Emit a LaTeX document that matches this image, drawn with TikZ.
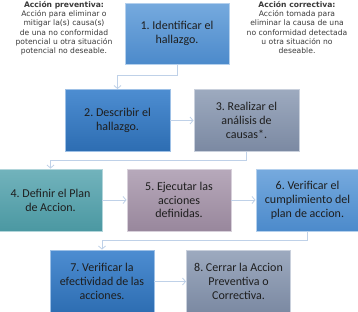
\documentclass[tikz,border=0pt]{standalone}
\usepackage{fontspec}
\setmainfont{Carlito}
\newfontfamily\notefont{DejaVu Sans}
\usetikzlibrary{arrows.meta}

\definecolor{blueTop}{HTML}{76AADE}
\definecolor{blueBot}{HTML}{4C8ACB}
\definecolor{dblueTop}{HTML}{4D8DD1}
\definecolor{dblueBot}{HTML}{2D6DB2}
\definecolor{greyTop}{HTML}{9DAABF}
\definecolor{greyBot}{HTML}{7B89A2}
\definecolor{tealTop}{HTML}{72B3BC}
\definecolor{tealBot}{HTML}{4B98A2}
\definecolor{mauveTop}{HTML}{B7A9BB}
\definecolor{mauveBot}{HTML}{98879C}
\definecolor{linkcol}{HTML}{BFD1E8}
\definecolor{notecol}{HTML}{3A3A3A}
\definecolor{boxtext}{HTML}{1E1E1E}

\tikzset{
  stepbox/.style={rectangle, minimum width=104pt, minimum height=62pt,
    inner sep=2pt, align=center, text=boxtext,
    font=\fontsize{12}{13.8}\selectfont, line width=0.9pt},
  bluebox/.style={stepbox, top color=blueTop, bottom color=blueBot, draw=blueTop!55!white},
  dbluebox/.style={stepbox, top color=dblueTop, bottom color=dblueBot, draw=dblueTop!55!white},
  greybox/.style={stepbox, top color=greyTop, bottom color=greyBot, draw=greyTop!55!white},
  tealbox/.style={stepbox, top color=tealTop, bottom color=tealBot, draw=tealTop!55!white},
  mauvebox/.style={stepbox, top color=mauveTop, bottom color=mauveBot, draw=mauveTop!55!white},
  link/.style={draw=linkcol, line width=0.8pt,
    -{Straight Barb[length=3pt,width=7pt]}},
  note/.style={align=center, text=notecol, inner sep=0pt,
    font=\notefont\fontsize{7.6}{9.3}\selectfont}
}

\begin{document}
\frenchspacing
\begin{tikzpicture}[x=1pt,y=-1pt]
  \useasboundingbox (0,0) rectangle (358,311);
  \fill[white] (0,0) rectangle (358,311);

  % side notes
  \node[note, anchor=north] (prev) at (64,1)
    {\textbf{Acción preventiva:}\\Acción para eliminar o\\mitigar la(s) causa(s)\\de una no conformidad\\potencial u otra situación\\potencial no deseable.};
  \node[note, anchor=north] (corr) at (297,1)
    {\textbf{Acción correctiva:}\\Acción tomada para\\eliminar la causa de una\\no conformidad detectada\\u otra situación no\\deseable.};

  % process steps
  \node[bluebox, minimum height=61pt] (s1) at (177,33.5) {1. Identificar el\\hallazgo.};
  \node[dbluebox, minimum width=105pt] (s2) at (117.5,120.5) {2. Describir el\\hallazgo.};
  \node[greybox, minimum width=105pt] (s3) at (246.5,120.5) {3. Realizar el\\análisis de\\causas*.};
  \node[tealbox, minimum width=103pt] (s4) at (50.5,200) {4. Definir el Plan\\de Accion.};
  \node[mauvebox] (s5) at (179,200) {5. Ejecutar las\\acciones\\definidas.};
  \node[bluebox, minimum width=103pt] (s6) at (307.5,200) {6. Verificar el\\cumplimiento del\\plan de accion.};
  \node[dbluebox, minimum height=63pt] (s7) at (102,281.5) {7. Verificar la\\efectividad de las\\acciones.};
  \node[greybox, minimum height=63pt] (s8) at (238.5,281.5) {8. Cerrar la Accion\\Preventiva o\\Correctiva.};

  % connectors
  \draw[link] (s1.south) -- ++(0,11) -| (s2.north);
  \draw[link] (s2.east) -- (s3.west);
  \draw[link] (s3.south) -- ++(0,8.5) -| (s4.north);
  \draw[link] (s4.east) -- (s5.west);
  \draw[link] (s5.east) -- (s6.west);
  \draw[link] (s6.south) -- ++(0,9) -| (s7.north);
  \draw[link] (s7.east) -- (s8.west);
\end{tikzpicture}
\end{document}
